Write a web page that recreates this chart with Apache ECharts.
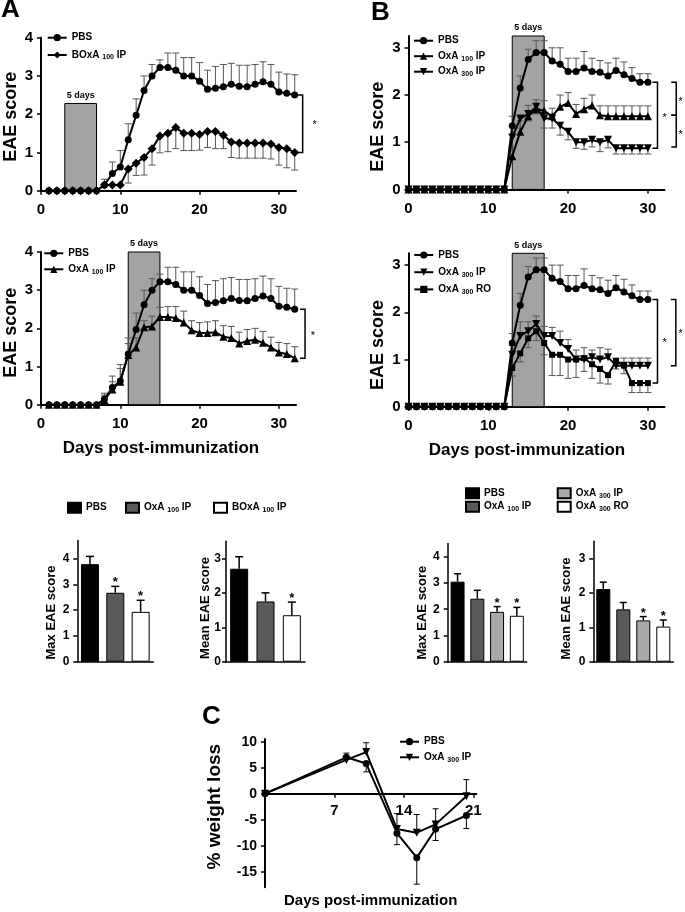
<!DOCTYPE html>
<html><head><meta charset="utf-8">
<script src="https://cdn.jsdelivr.net/npm/echarts@6/dist/echarts.min.js"></script>
<style>html,body{margin:0;padding:0;background:#fff}#c{width:685px;height:912px}</style>
</head><body><div id="c"></div>
<script>
const FONT = '"Liberation Sans", Arial, Helvetica, sans-serif';

// ---------- Panel A (days 1-32) ----------
const daysA = [1,2,3,4,5,6,7,8,9,10,11,12,13,14,15,16,17,18,19,20,21,22,23,24,25,26,27,28,29,30,31,32];
const pbsA = [0,0,0,0,0,0,0,0.15,0.45,0.62,1.33,1.97,2.62,3.0,3.22,3.22,3.15,3.0,3.0,2.86,2.65,2.68,2.72,2.78,2.73,2.72,2.78,2.85,2.78,2.58,2.55,2.5];
const pbsAErr = [0,0,0,0,0,0,0,0.3,0.75,1.05,1.75,2.4,3.0,3.3,3.42,3.6,3.6,3.48,3.48,3.35,3.15,3.25,3.3,3.33,3.28,3.28,3.3,3.37,3.3,3.1,3.05,3.03];
const boxaA = [0,0,0,0,0,0,0,0.15,0.15,0.15,0.57,0.72,0.87,1.1,1.43,1.5,1.65,1.5,1.5,1.47,1.55,1.55,1.45,1.27,1.25,1.25,1.25,1.25,1.22,1.13,1.1,1.0];
const boxaAErr = [0,0,0,0,0,0,0,0.15,0.15,0.15,0.2,0.4,0.41,0.67,0.99,1.02,1.1,1.05,1.05,1.06,1.13,1.1,1.1,0.87,0.85,0.85,0.85,0.85,0.83,0.67,0.6,0.54];
const oxa100A = [0,0,0,0,0,0,0,0.12,0.4,0.6,1.3,1.5,2.03,2.05,2.3,2.3,2.27,2.15,1.95,1.88,1.88,1.9,1.78,1.75,1.6,1.67,1.7,1.62,1.5,1.37,1.33,1.22];
const oxa100AErr = [0,0,0,0,0,0,0,0.25,0.6,0.95,1.6,1.75,2.2,2.32,2.55,2.57,2.57,2.45,2.2,2.15,2.17,2.2,2.07,2.05,1.9,1.97,2.0,1.92,1.77,1.63,1.6,1.52];
const shadeA1 = [3, 7, 2.28];
const shadeA2 = [11, 15, 4];
// brackets: [x, yTop, yBottom, starX, starY]
const bracketsA1 = [[33.0, 2.5, 1.0, 34.5, 1.72]];
const bracketsA2 = [[33.3, 2.5, 1.22, 34.3, 1.8]];

// ---------- Panel B (days 0-30) ----------
const daysB = [0,1,2,3,4,5,6,7,8,9,10,11,12,13,14,15,16,17,18,19,20,21,22,23,24,25,26,27,28,29,30];
const pbsB = [0,0,0,0,0,0,0,0,0,0,0,0,0,1.35,2.15,2.75,2.9,2.9,2.72,2.65,2.5,2.5,2.57,2.5,2.48,2.4,2.52,2.43,2.35,2.27,2.27];
const pbsBErr = [0,0,0,0,0,0,0,0,0,0,0,0,0,1.55,2.4,2.97,3.15,3.15,3.0,3.0,2.78,2.78,2.92,2.78,2.73,2.68,2.78,2.7,2.58,2.45,2.45];
const oxa100B = [0,0,0,0,0,0,0,0,0,0,0,0,0,0.7,1.22,1.55,1.7,1.67,1.55,1.75,1.83,1.6,1.7,1.78,1.57,1.55,1.55,1.55,1.55,1.55,1.55];
const oxa100BErr = [0,0,0,0,0,0,0,0,0,0,0,0,0,0.85,1.45,1.78,1.9,1.88,1.72,2.0,2.05,1.8,1.93,2.0,1.77,1.77,1.77,1.77,1.77,1.77,1.77];
const oxa300B = [0,0,0,0,0,0,0,0,0,0,0,0,0,1.1,1.5,1.6,1.75,1.5,1.5,1.35,1.22,1.0,1.0,1.05,1.0,1.05,0.87,0.87,0.87,0.87,0.87];
const oxa300BErrLow = [0,0,0,0,0,0,0,0,0,0,0,0,0,0.9,1.3,1.45,1.6,1.3,1.3,1.15,1.05,0.87,0.85,0.9,0.8,0.88,0.75,0.75,0.75,0.75,0.75];
const oxa300BErrHigh = [0,0,0,0,0,0,0,0,0,0,0,0,0,1.3,1.8,1.8,1.92,1.7,1.68,1.6,1.42,1.2,1.25,1.2,1.25,1.22,1.03,1.03,1.03,1.03,1.03];
const oxa300RO = [0,0,0,0,0,0,0,0,0,0,0,0,0,0.82,1.13,1.45,1.6,1.35,1.1,1.1,1.0,1.0,1.03,0.9,0.8,0.67,0.97,0.87,0.5,0.5,0.5];
const oxa300ROErr = [0,0,0,0,0,0,0,0,0,0,0,0,0,0.65,0.95,1.25,1.4,1.1,0.66,0.66,0.6,0.62,0.75,0.6,0.5,0.48,0.8,0.7,0.3,0.3,0.3];
const shadeB = [13, 17, 3.3];
const bracketsB1 = [[31.2, 2.27, 0.87, 32.1, 1.52], [33.55, 2.27, 1.57, 34.1, 1.85], [33.55, 1.57, 0.9, 34.1, 1.15]];
const bracketsB2 = [[31.2, 2.27, 0.5, 32.1, 1.34], [33.5, 2.27, 0.87, 34.1, 1.55]];

// ---------- Bar charts ----------
const barNamesLeft = ['barPBS','barOxA100IP','barBOxA100IP'];
const leftMax = [3.78, 2.67, 1.93];
const leftMaxErr = [4.08, 2.92, 2.38];
const leftMaxSig = ['', '*', '*'];
const leftMean = [2.7, 1.75, 1.35];
const leftMeanErr = [3.05, 2.0, 1.73];
const leftMeanSig = ['', '', '*'];
const barNamesRight = ['barPBS','barOxA100IP','barOxA300IP','barOxA300RO'];
const rightMax = [3.05, 2.4, 1.9, 1.75];
const rightMaxErr = [3.35, 2.72, 2.1, 2.07];
const rightMaxSig = ['', '', '*', '*'];
const rightMean = [2.11, 1.52, 1.2, 1.02];
const rightMeanErr = [2.31, 1.72, 1.31, 1.21];
const rightMeanSig = ['', '', '*', '*'];
const barColors = {barPBS:'#000000', barOxA100IP:'#5a5a5a', barBOxA100IP:'#ffffff', barOxA300IP:'#a8a8a8', barOxA300RO:'#ffffff'};

// ---------- Panel C ----------
const daysC = [0, 8.2, 10.2, 13.3, 15.3, 17.2, 20.3];
const pbsC = [0, 7.0, 5.8, -7.6, -12.3, -6.8, -4.2];
const pbsCErr = [0, 7.8, 4.2, -9.8, -17.4, -9.0, -6.7];
const oxa300C = [0, 6.5, 8.0, -6.8, -7.5, -5.9, -0.5];
const oxa300CErr = [0, 6.5, 9.8, -3.8, -4.0, -2.9, 2.7];

const legendText = {
  PBS: '{n|PBS}',
  BOxA100IP: '{n|BOxA }{s|100}{n| IP}',
  OxA100IP: '{n|OxA }{s|100}{n| IP}',
  OxA300IP: '{n|OxA }{s|300}{n| IP}',
  OxA300RO: '{n|OxA }{s|300}{n| RO}',
  barPBS: '{n|PBS}',
  barOxA100IP: '{n|OxA }{s|100}{n| IP}',
  barBOxA100IP: '{n|BOxA }{s|100}{n| IP}',
  barOxA300IP: '{n|OxA }{s|300}{n| IP}',
  barOxA300RO: '{n|OxA }{s|300}{n| RO}'
};

// ---------- builders ----------
const grids = [], xAxes = [], yAxes = [], series = [], legends = [];
const pairs = (xs, ys) => xs.map((x, i) => [x, ys[i]]);
const triples = (xs, ys, es) => xs.map((x, i) => [x, ys[i], es[i]]);

function addGrid(g) { grids.push(Object.assign({outerBoundsMode: 'none', containLabel: false}, g)); return grids.length - 1; }

function valueAxis(gi, o) {
  const ax = {
    type: 'value', gridIndex: gi, min: o.min, max: o.max, splitLine: {show: false}, offset: o.offset || 0,
    axisLine: {show: true, onZero: false, lineStyle: {color: '#000', width: o.lw || 2}},
    axisTick: {show: true, length: 4, inside: false, lineStyle: {color: '#000', width: 1.5}},
    axisLabel: {color: '#000', fontFamily: FONT, fontWeight: 'bold', fontSize: o.fs || 15, margin: o.margin || 8},
    name: o.name || '', nameLocation: 'middle', nameGap: o.nameGap || 20, nameRotate: o.nameRotate,
    nameMoveOverlap: false,
    nameTextStyle: {color: '#000', fontFamily: FONT, fontWeight: 'bold', fontSize: o.nameSize || 17, padding: o.namePad || 0}
  };
  if (o.ticks) { ax.axisLabel.customValues = o.ticks; ax.axisTick.customValues = o.ticks; }
  if (o.interval) ax.interval = o.interval;
  return ax;
}

function lineSeries(ai, name, data, symbol, size, extra) {
  return Object.assign({
    type: 'line', name, xAxisIndex: ai, yAxisIndex: ai, data, symbol, symbolSize: size,
    showAllSymbol: true, lineStyle: {color: '#000', width: 2}, itemStyle: {color: '#000'},
    z: 3, clip: false, animation: false, emphasis: {disabled: true}, silent: true
  }, extra || {});
}

function errSeries(ai, data, cap, color) {
  return {
    type: 'custom', xAxisIndex: ai, yAxisIndex: ai, data, z: 2, silent: true, animation: false, clip: false,
    renderItem(params, api) {
      const x = api.value(0), y = api.value(1), e = api.value(2);
      if (e === y) return null;
      const p0 = api.coord([x, y]), p1 = api.coord([x, e]);
      const st = {stroke: color, lineWidth: 1};
      return {type: 'group', children: [
        {type: 'line', shape: {x1: p0[0], y1: p0[1], x2: p1[0], y2: p1[1]}, style: st},
        {type: 'line', shape: {x1: p1[0] - cap / 2, y1: p1[1], x2: p1[0] + cap / 2, y2: p1[1]}, style: st}
      ]};
    }
  };
}

function bracketSeries(ai, items) {
  return {
    type: 'custom', xAxisIndex: ai, yAxisIndex: ai, data: items.map(b => [b[0], b[1], b[2]]),
    z: 3, silent: true, animation: false, clip: false,
    renderItem(params, api) {
      const b = items[params.dataIndex];
      const t = api.coord([b[0], b[1]]), bt = api.coord([b[0], b[2]]), s = api.coord([b[3], b[4]]);
      return {type: 'group', children: [
        {type: 'polyline', shape: {points: [[t[0] - 5, t[1]], [t[0], t[1]], [bt[0], bt[1]], [bt[0] - 5, bt[1]]]},
         style: {stroke: '#000', fill: null, lineWidth: 1.5}},
        {type: 'text', x: s[0], y: s[1], style: {text: '*', font: '11px ' + FONT, fill: '#000', align: 'center', verticalAlign: 'middle'}}
      ]};
    }
  };
}

function barErrSeries(ai, vals, errs, sig, cap) {
  return {
    type: 'custom', xAxisIndex: ai, yAxisIndex: ai, data: vals.map((v, i) => [i, v, errs[i]]),
    z: 4, silent: true, animation: false, clip: false,
    renderItem(params, api) {
      const i = params.dataIndex;
      const p0 = api.coord([i, vals[i]]), p1 = api.coord([i, errs[i]]);
      const st = {stroke: '#000', lineWidth: 1.5};
      const ch = [
        {type: 'line', shape: {x1: p0[0], y1: p0[1], x2: p1[0], y2: p1[1]}, style: st},
        {type: 'line', shape: {x1: p1[0] - cap / 2, y1: p1[1], x2: p1[0] + cap / 2, y2: p1[1]}, style: st}
      ];
      if (sig[i]) ch.push({type: 'text', x: p1[0], y: p1[1] + 3, style: {text: sig[i], font: 'bold 13px ' + FONT, fill: '#000', align: 'center', verticalAlign: 'bottom'}});
      return {type: 'group', children: ch};
    }
  };
}

function shade(sh) {
  return {
    silent: true, z: 1,
    itemStyle: {color: '#a3a3a3', borderColor: '#000', borderWidth: 1, opacity: 1},
    label: {show: true, position: 'top', distance: 3, formatter: '5 days', color: '#000', fontFamily: FONT, fontWeight: 'bold', fontSize: 9},
    data: [[{coord: [sh[0], 0]}, {coord: [sh[1], sh[2]]}]]
  };
}

const richStyles = {
  n: {fontSize: 10, fontWeight: 'bold', fontFamily: FONT, color: '#000', lineHeight: 12},
  s: {fontSize: 7, fontWeight: 'bold', fontFamily: FONT, color: '#000', verticalAlign: 'bottom', lineHeight: 8}
};
function addLegend(names, left, top, gap, iw, ih, icon, orient) {
  const lg = {
    data: names, left, top, orient: orient || 'vertical', itemGap: gap, itemWidth: iw, itemHeight: ih,
    selectedMode: false, padding: 0, formatter: n => legendText[n],
    textStyle: {color: '#000', fontFamily: FONT, fontWeight: 'bold', fontSize: 10, lineHeight: 12, rich: richStyles}
  };
  if (icon) lg.icon = icon;
  legends.push(lg);
}

// ---------- Panel A top ----------
let g = addGrid({left: 41, top: 37.7, width: 255, height: 153});
xAxes.push(valueAxis(g, {min: 0, max: 32.16, ticks: [0, 10, 20, 30], margin: 12}));
yAxes.push(valueAxis(g, {min: 0, max: 4, interval: 1, name: 'EAE score', nameRotate: 90, nameGap: 21, nameSize: 18, namePad: [0, 5, 0, 0]}));
series.push(errSeries(g, triples(daysA, pbsA, pbsAErr), 7, '#555'));
series.push(errSeries(g, triples(daysA, boxaA, boxaAErr), 7, '#555'));
series.push(lineSeries(g, 'PBS', pairs(daysA, pbsA), 'circle', 7, {markArea: shade(shadeA1)}));
series.push(lineSeries(g, 'BOxA100IP', pairs(daysA, boxaA), 'diamond', 9));
series.push(bracketSeries(g, bracketsA1));
addLegend(['PBS', 'BOxA100IP'], 46.7, 31.7, 5.3, 19, 9);

// ---------- Panel A middle ----------
g = addGrid({left: 41, top: 252, width: 255, height: 152.7});
xAxes.push(valueAxis(g, {min: 0, max: 32.16, ticks: [0, 10, 20, 30], margin: 12, name: 'Days post-immunization', nameGap: 35, nameSize: 17, namePad: [0, 15, 0, 0]}));
yAxes.push(valueAxis(g, {min: 0, max: 4, interval: 1, name: 'EAE score', nameRotate: 90, nameGap: 21, nameSize: 18, namePad: [0, 9, 0, 0]}));
series.push(errSeries(g, triples(daysA, pbsA, pbsAErr), 7, '#555'));
series.push(errSeries(g, triples(daysA, oxa100A, oxa100AErr), 7, '#555'));
series.push(lineSeries(g, 'PBS', pairs(daysA, pbsA), 'circle', 7, {markArea: shade(shadeA2)}));
series.push(lineSeries(g, 'OxA100IP', pairs(daysA, oxa100A), 'triangle', 8));
series.push(bracketSeries(g, bracketsA2));
addLegend(['PBS', 'OxA100IP'], 43.3, 247.3, 4, 19, 9);

// ---------- Panel B top ----------
g = addGrid({left: 408.5, top: 36, width: 256, height: 153.4});
xAxes.push(valueAxis(g, {min: 0, max: 32.08, ticks: [0, 10, 20, 30], margin: 12}));
yAxes.push(valueAxis(g, {min: 0, max: 3.25, ticks: [0, 1, 2, 3], name: 'EAE score', nameRotate: 90, nameGap: 21, nameSize: 18, namePad: [0, 28, 0, 0]}));
series.push(errSeries(g, triples(daysB, pbsB, pbsBErr), 7, '#555'));
series.push(errSeries(g, triples(daysB, oxa100B, oxa100BErr), 7, '#555'));
series.push(errSeries(g, triples(daysB, oxa300B, oxa300BErrLow), 7, '#555'));
series.push(lineSeries(g, 'PBS', pairs(daysB, pbsB), 'circle', 7, {markArea: shade(shadeB)}));
series.push(lineSeries(g, 'OxA100IP', pairs(daysB, oxa100B), 'triangle', 8));
series.push(lineSeries(g, 'OxA300IP', pairs(daysB, oxa300B), 'triangle', 8, {symbolRotate: 180}));
series.push(bracketSeries(g, bracketsB1));
addLegend(['PBS', 'OxA100IP', 'OxA300IP'], 413, 34.7, 3.5, 19, 9);

// ---------- Panel B middle ----------
g = addGrid({left: 408.5, top: 253.3, width: 256, height: 153.4});
xAxes.push(valueAxis(g, {min: 0, max: 32.08, ticks: [0, 10, 20, 30], margin: 12, name: 'Days post-immunization', nameGap: 35, nameSize: 17, namePad: [0, 19, 0, 0]}));
yAxes.push(valueAxis(g, {min: 0, max: 3.25, ticks: [0, 1, 2, 3], name: 'EAE score', nameRotate: 90, nameGap: 21, nameSize: 18, namePad: [0, 30, 0, 0]}));
series.push(errSeries(g, triples(daysB, pbsB, pbsBErr), 7, '#555'));
series.push(errSeries(g, triples(daysB, oxa300B, oxa300BErrHigh), 7, '#555'));
series.push(errSeries(g, triples(daysB, oxa300RO, oxa300ROErr), 7, '#555'));
series.push(lineSeries(g, 'PBS', pairs(daysB, pbsB), 'circle', 7, {markArea: shade(shadeB)}));
series.push(lineSeries(g, 'OxA300IP', pairs(daysB, oxa300B), 'triangle', 8, {symbolRotate: 180}));
series.push(lineSeries(g, 'OxA300RO', pairs(daysB, oxa300RO), 'rect', 6));
series.push(bracketSeries(g, bracketsB2));
addLegend(['PBS', 'OxA300IP', 'OxA300RO'], 413.3, 249, 5.2, 19, 9);

// ---------- Bar charts ----------
function barChart(grid, names, vals, errs, sig, yMax, ticks, barW, cap, yName, nameGap, namePad, margin) {
  const gi = addGrid(grid);
  xAxes.push({type: 'category', gridIndex: gi, data: names, axisLine: {show: true, lineStyle: {color: '#000', width: 1.5}},
    axisTick: {show: false}, axisLabel: {show: false}, splitLine: {show: false}});
  yAxes.push(valueAxis(gi, {min: 0, max: yMax, ticks, lw: 1.5, fs: 12, margin, name: yName, nameRotate: 90, nameGap, nameSize: 13, namePad: [0, namePad, 0, 0]}));
  names.forEach((nm, i) => {
    series.push({type: 'bar', name: nm, xAxisIndex: gi, yAxisIndex: gi, barWidth: barW, barGap: '-100%',
      data: names.map((_, j) => j === i ? vals[i] : '-'), animation: false, silent: true,
      itemStyle: {color: barColors[nm], borderColor: '#000', borderWidth: 1}});
  });
  series.push(barErrSeries(gi, vals, errs, sig, cap));
}
barChart({left: 77.3, top: 540.4, width: 76, height: 121.3}, barNamesLeft, leftMax, leftMaxErr, leftMaxSig, 4.7, [0,1,2,3,4], 18, 8, 'Max EAE score', 19, 23, 8);
barChart({left: 226, top: 541.2, width: 79, height: 120.5}, barNamesLeft, leftMean, leftMeanErr, leftMeanSig, 3.5, [0,1,2,3], 18, 8, 'Mean EAE score', 14, 13, 5);
barChart({left: 447.7, top: 543.6, width: 79, height: 118.1}, barNamesRight, rightMax, rightMaxErr, rightMaxSig, 4.5, [0,1,2,3,4], 14, 7, 'Max EAE score', 19, 20, 8);
barChart({left: 593.3, top: 541.2, width: 80, height: 120.5}, barNamesRight, rightMean, rightMeanErr, rightMeanSig, 3.5, [0,1,2,3], 14, 7, 'Mean EAE score', 20, 14, 8);
addLegend(['barPBS'], 67, 501.7, 0, 13, 10, 'rect', 'horizontal');
addLegend(['barOxA100IP'], 125, 501.7, 0, 13, 10, 'rect', 'horizontal');
addLegend(['barBOxA100IP'], 213, 501.7, 0, 13, 10, 'rect', 'horizontal');
addLegend(['barPBS', 'barOxA100IP'], 465, 487.3, 1.4, 13, 10, 'rect');
addLegend(['barOxA300IP', 'barOxA300RO'], 556.7, 487.3, 1.4, 13, 10, 'rect');

// ---------- Panel C ----------
g = addGrid({left: 265, top: 739.1, width: 211.3, height: 148.2});
xAxes.push(valueAxis(g, {min: 0, max: 21.3, ticks: [7, 14, 21], offset: -93.6, margin: 10, name: 'Days post-immunization', nameGap: 100, nameSize: 15}));
yAxes.push(valueAxis(g, {min: -18, max: 10.5, ticks: [-15, -10, -5, 0, 5, 10], fs: 14, margin: 8, name: '% weight loss', nameRotate: 90, nameGap: 41, nameSize: 19, namePad: [0, 0, 0, 13]}));
series.push(errSeries(g, triples(daysC, pbsC, pbsCErr), 6, '#000'));
series.push(errSeries(g, triples(daysC, oxa300C, oxa300CErr), 6, '#000'));
series.push(lineSeries(g, 'PBS', pairs(daysC, pbsC), 'circle', 7));
series.push(lineSeries(g, 'OxA300IP', pairs(daysC, oxa300C), 'triangle', 8, {symbolRotate: 180}));
addLegend(['PBS', 'OxA300IP'], 399, 735.7, 3.6, 19, 9);

const titles = [
  {text: 'A', left: 1, top: -3},
  {text: 'B', left: 371, top: 0},
  {text: 'C', left: 202, top: 704}
].map(t => Object.assign(t, {padding: 0, textStyle: {color: '#000', fontFamily: FONT, fontWeight: 'bold', fontSize: 26}}));

const chart = echarts.init(document.getElementById('c'), null, {renderer: 'canvas'});
chart.setOption({
  animation: false, backgroundColor: '#fff',
  title: titles, grid: grids, xAxis: xAxes, yAxis: yAxes, legend: legends, series
});
</script></body></html>
